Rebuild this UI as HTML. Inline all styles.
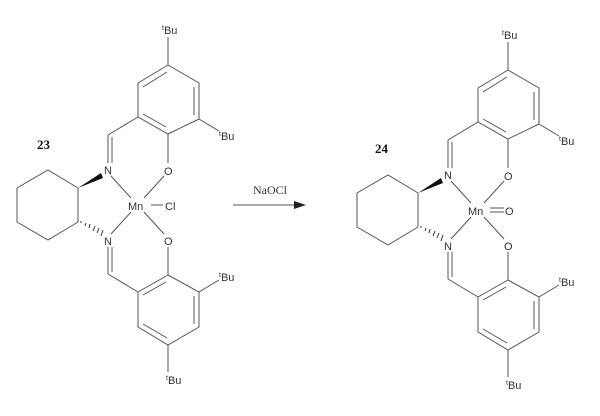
<!DOCTYPE html>
<html><head><style>
html,body{margin:0;padding:0;background:#fff;}
svg{display:block}
</style></head><body>
<svg width="600" height="416" viewBox="0 0 600 416">
<defs>
<g id="lig" stroke="#555" stroke-width="1" fill="none">
  <polyline points="168,65 199,83 199,119 168,134 138,117 138,83 168,65"/>
  <line x1="143" y1="87" x2="167" y2="72"/>
  <line x1="194" y1="87" x2="194" y2="115"/>
  <line x1="143" y1="114" x2="166" y2="127"/>
  <line x1="168" y1="65" x2="168" y2="37"/>
  <line x1="199" y1="119" x2="219" y2="131"/>
  <line x1="168" y1="134" x2="168" y2="163"/>
  <line x1="138" y1="117" x2="108" y2="135"/>
  <line x1="108" y1="135" x2="108" y2="163"/>
  <line x1="112" y1="137" x2="112" y2="163"/>
  <polyline points="168,275 199,292 199,327 168,345 138,327 138,292 168,275"/>
  <line x1="143" y1="295" x2="166" y2="282"/>
  <line x1="194" y1="296" x2="194" y2="324"/>
  <line x1="143" y1="324" x2="167" y2="338"/>
  <line x1="168" y1="345" x2="168" y2="372"/>
  <line x1="199" y1="292" x2="219" y2="280"/>
  <line x1="168" y1="275" x2="168" y2="247"/>
  <line x1="138" y1="292" x2="108" y2="274"/>
  <line x1="108" y1="274" x2="108" y2="247"/>
  <line x1="112" y1="272" x2="112" y2="247"/>
  <polyline points="78,188 48,170 17,188 17,222 48,240 78,222"/>
  <line x1="78" y1="188" x2="78" y2="222"/>
  <line x1="111" y1="176" x2="131" y2="198"/>
  <line x1="164" y1="176" x2="144" y2="198"/>
  <line x1="111" y1="234" x2="131" y2="212"/>
  <line x1="164" y1="234" x2="144" y2="212"/>
</g>
<g id="wedges">
  <polygon points="78,188 101,173 103,178" fill="#111"/>
  <g stroke="#333" stroke-width="1">
    <line x1="81" y1="223" x2="81" y2="221"/>
    <line x1="85" y1="226" x2="86" y2="223"/>
    <line x1="89" y1="228" x2="90" y2="224"/>
    <line x1="93" y1="231" x2="95" y2="226"/>
    <line x1="97" y1="233" x2="99" y2="228"/>
    <line x1="101" y1="236" x2="103" y2="230"/>
  </g>
</g>
</defs>
<use href="#lig"/><use href="#wedges"/>
<g font-family="Liberation Sans, sans-serif" font-size="11" fill="#333">
  <text x="104" y="174">N</text>
  <text x="104" y="245">N</text>
  <text x="164" y="175">O</text>
  <text x="164" y="245">O</text>
  <text x="128" y="210">Mn</text>
  <text x="162" y="34"><tspan font-size="7" dy="-4">t</tspan><tspan dy="4">Bu</tspan></text>
  <text x="219" y="140"><tspan font-size="7" dy="-4">t</tspan><tspan dy="4">Bu</tspan></text>
  <text x="219" y="281"><tspan font-size="7" dy="-4">t</tspan><tspan dy="4">Bu</tspan></text>
  <text x="166" y="384"><tspan font-size="7" dy="-4">t</tspan><tspan dy="4">Bu</tspan></text>
  <text x="165" y="210">Cl</text>
</g>
<line x1="151" y1="205" x2="163" y2="205" stroke="#555"/>
<text x="37" y="149" font-family="Liberation Serif, serif" font-weight="bold" font-size="13" fill="#111">23</text>

<line x1="233" y1="205" x2="298" y2="205" stroke="#555"/>
<polygon points="306,205 294,201 294,209" fill="#222"/>
<text x="253" y="194" font-family="Liberation Serif, serif" font-size="12" fill="#333">NaOCl</text>

<g transform="translate(340,5)">
<use href="#lig"/><use href="#wedges"/>
<g font-family="Liberation Sans, sans-serif" font-size="11" fill="#333">
  <text x="104" y="174">N</text>
  <text x="104" y="245">N</text>
  <text x="164" y="175">O</text>
  <text x="164" y="245">O</text>
  <text x="128" y="210">Mn</text>
  <text x="162" y="34"><tspan font-size="7" dy="-4">t</tspan><tspan dy="4">Bu</tspan></text>
  <text x="219" y="140"><tspan font-size="7" dy="-4">t</tspan><tspan dy="4">Bu</tspan></text>
  <text x="219" y="281"><tspan font-size="7" dy="-4">t</tspan><tspan dy="4">Bu</tspan></text>
  <text x="166" y="384"><tspan font-size="7" dy="-4">t</tspan><tspan dy="4">Bu</tspan></text>
  <text x="165" y="210">O</text>
</g>
<line x1="150" y1="203" x2="164" y2="203" stroke="#555"/>
<line x1="150" y1="207" x2="164" y2="207" stroke="#555"/>
<text x="35" y="148" font-family="Liberation Serif, serif" font-weight="bold" font-size="13" fill="#111">24</text>
</g>
</svg>
</body></html>
